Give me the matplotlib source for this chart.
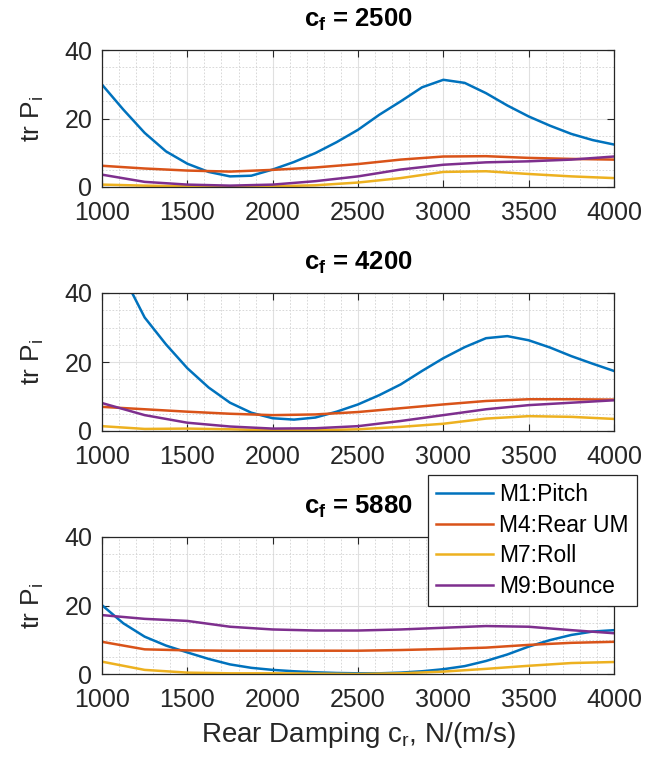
import matplotlib
matplotlib.use("Agg")
import matplotlib.pyplot as plt
from matplotlib.ticker import MultipleLocator

plt.rcParams['font.family'] = ['Liberation Sans', 'DejaVu Sans']
plt.rcParams['mathtext.fontset'] = 'custom'
plt.rcParams['mathtext.rm'] = 'Liberation Sans'
plt.rcParams['mathtext.it'] = 'Liberation Sans'
plt.rcParams['mathtext.bf'] = 'Liberation Sans:bold'

# ---- data ----
cf_values = [2500, 4200, 5880]
labels = ['M1:Pitch', 'M4:Rear UM', 'M7:Roll', 'M9:Bounce']

# fine grid (125 step) for the pitch curves, coarse grid (250 step) for the others
cr_fine = [1000, 1125, 1250, 1375, 1500, 1625, 1750, 1875, 2000, 2125, 2250, 2375, 2500,
           2625, 2750, 2875, 3000, 3125, 3250, 3375, 3500, 3625, 3750, 3875, 4000]
cr = [1000, 1250, 1500, 1750, 2000, 2250, 2500, 2750, 3000, 3250, 3500, 3750, 4000]

pitch_2500  = [29.9, 22.6, 15.8, 10.4, 6.8, 4.4, 3.1, 3.3, 5.1, 7.3, 9.9, 13.1, 16.7,
               21.1, 25.0, 29.1, 31.3, 30.4, 27.4, 23.8, 20.6, 17.9, 15.5, 13.7, 12.4]
rearum_2500 = [6.2, 5.4, 4.8, 4.5, 5.0, 5.7, 6.7, 8.0, 8.9, 9.0, 8.5, 8.2, 8.0]
roll_2500   = [0.7, 0.4, 0.2, 0.2, 0.2, 0.5, 1.3, 2.6, 4.4, 4.6, 3.8, 3.1, 2.6]
bounce_2500 = [3.6, 1.5, 0.7, 0.4, 0.7, 1.7, 3.1, 5.1, 6.5, 7.2, 7.5, 8.0, 8.9]

pitch_4200  = [58.0, 45.0, 32.9, 25.1, 18.2, 12.6, 8.2, 5.3, 3.7, 3.3, 3.9, 5.6, 7.7,
               10.4, 13.5, 17.4, 21.1, 24.3, 26.9, 27.5, 26.3, 24.2, 21.7, 19.5, 17.4]
rearum_4200 = [7.0, 6.3, 5.6, 5.0, 4.6, 4.8, 5.5, 6.6, 7.7, 8.7, 9.2, 9.2, 9.1]
roll_4200   = [1.4, 0.6, 0.7, 0.5, 0.2, 0.2, 0.5, 1.2, 2.1, 3.6, 4.3, 4.1, 3.5]
bounce_4200 = [8.1, 4.6, 2.4, 1.3, 0.7, 0.8, 1.4, 2.9, 4.6, 6.3, 7.5, 8.2, 8.9]

pitch_5880  = [20.1, 14.8, 10.9, 8.3, 6.3, 4.4, 2.8, 1.8, 1.2, 0.8, 0.5, 0.3, 0.2,
               0.2, 0.4, 0.8, 1.4, 2.3, 3.8, 5.7, 8.0, 9.9, 11.4, 12.4, 12.8]
rearum_5880 = [9.4, 7.2, 6.9, 6.8, 6.8, 6.8, 6.8, 7.0, 7.3, 7.7, 8.5, 9.1, 9.4]
roll_5880   = [3.6, 1.2, 0.4, 0.2, 0.2, 0.1, 0.0, 0.2, 0.7, 1.5, 2.4, 3.2, 3.5]
bounce_5880 = [17.2, 16.1, 15.5, 13.8, 13.0, 12.7, 12.7, 13.0, 13.5, 14.0, 13.8, 12.8, 11.9]

series = [
    [pitch_2500, rearum_2500, roll_2500, bounce_2500],
    [pitch_4200, rearum_4200, roll_4200, bounce_4200],
    [pitch_5880, rearum_5880, roll_5880, bounce_5880],
]
colors = ['#0072BD', '#D95319', '#EDB120', '#7E2F8E']

W, H = 655, 765
fig = plt.figure(figsize=(W / 100, H / 100), dpi=100)
axes_px = [(50, 187), (293, 431), (537, 674)]
left_px, right_px = 102, 614
dark = '#262626'

lines = []
for i, (top, bot) in enumerate(axes_px):
    ax = fig.add_axes([left_px / W, 1 - bot / H, (right_px - left_px) / W, (bot - top) / H])
    for j, ys in enumerate(series[i]):
        xs = cr_fine if j == 0 else cr
        ln, = ax.plot(xs, ys, color=colors[j], lw=1.8, label=labels[j],
                      solid_joinstyle='round')
        if i == 0:
            lines.append(ln)
    ax.set_xlim(1000, 4000)
    ax.set_ylim(0, 40)
    ax.xaxis.set_major_locator(MultipleLocator(500))
    ax.xaxis.set_minor_locator(MultipleLocator(100))
    ax.yaxis.set_major_locator(MultipleLocator(20))
    ax.yaxis.set_minor_locator(MultipleLocator(5))
    ax.grid(which='major', color='#e0e0e0', lw=0.8, ls='-')
    ax.grid(which='minor', color='#d2d2d2', lw=0.6, ls=(0, (2, 2)))
    ax.set_axisbelow(True)
    ax.tick_params(which='both', direction='in', top=True, right=True, colors=dark,
                   labelsize=18, labelcolor=dark)
    ax.tick_params(which='major', length=5, width=0.8)
    ax.tick_params(axis='x', which='major', pad=10)
    ax.tick_params(axis='y', which='major', pad=7)
    ax.tick_params(which='minor', length=0)
    for s in ax.spines.values():
        s.set_color(dark)
        s.set_linewidth(0.9)
    ax.set_ylabel(r'tr P$_\mathrm{i}$', fontsize=19, color=dark, labelpad=13)
    ax.set_title(r'c$_\mathbf{f}$ = %d' % cf_values[i], fontsize=18.5,
                 fontweight='bold', color='black', pad=17)
    if i == 2:
        ax.set_xlabel(r'Rear Damping c$_\mathrm{r}$, N/(m/s)', fontsize=20, color=dark,
                      labelpad=6)

leg = fig.legend(handles=lines, loc='upper left', bbox_to_anchor=(428 / W, 1 - 475 / H),
                 fontsize=16.5, frameon=True, fancybox=False, framealpha=1,
                 edgecolor=dark, handlelength=2.5, labelspacing=0.33, borderpad=0.35,
                 handletextpad=0.25, borderaxespad=0)
leg.get_frame().set_linewidth(0.9)

fig.savefig('out.png', dpi=100)
